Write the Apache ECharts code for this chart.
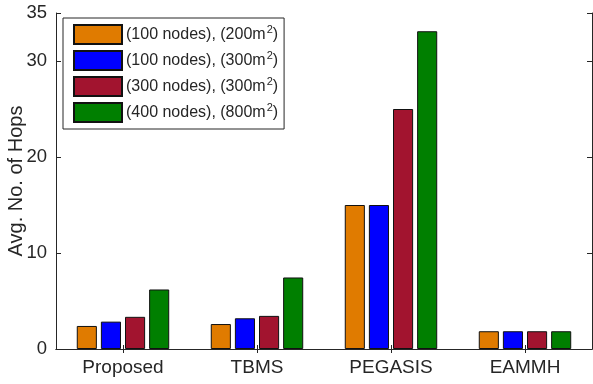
<!DOCTYPE html>
<html>
<head>
<meta charset="utf-8">
<script src="https://cdn.jsdelivr.net/npm/echarts@6/dist/echarts.min.js"></script>
<style>
  html, body { margin: 0; padding: 0; background: #fff; }
  #chart { width: 593px; height: 384px; }
</style>
</head>
<body>
<div id="chart"></div>
<script>
// Routing protocols compared
const categories = ['Proposed', 'TBMS', 'PEGASIS', 'EAMMH'];

// Average number of hops per network scenario
const nodes100area200 = [2.4, 2.6, 15.0, 1.85];
const nodes100area300 = [2.85, 3.2, 15.0, 1.85];
const nodes300area300 = [3.35, 3.45, 25.0, 1.85];
const nodes400area800 = [6.2, 7.45, 33.1, 1.85];

const seriesNames = [
  '(100 nodes), (200m{sup|2})',
  '(100 nodes), (300m{sup|2})',
  '(300 nodes), (300m{sup|2})',
  '(400 nodes), (800m{sup|2})'
];
const seriesValues = [nodes100area200, nodes100area300, nodes300area300, nodes400area800];
const seriesColors = ['#E07B00', '#0000FF', '#A2142F', '#007F00'];

const yTicks = { min: 0, max: 35, interval: 10 };

const axisColor = '#262626';
const font = 'Liberation Sans, Arial, Helvetica, sans-serif';

const chart = echarts.init(document.getElementById('chart'), null, { renderer: 'canvas' });

chart.setOption({
  animation: false,
  grid: { left: 56, right: 1, top: 13, bottom: 35, outerBoundsMode: 'none', containLabel: false },
  legend: {
    orient: 'vertical',
    left: 63,
    top: 18,
    itemWidth: 48,
    itemHeight: 19,
    itemGap: 5,
    padding: [6, 6, 6, 10],
    backgroundColor: '#fff',
    borderColor: axisColor,
    borderWidth: 1,
    icon: 'rect',
    textStyle: {
      fontFamily: font,
      fontSize: 16,
      color: axisColor,
      padding: [0, 0, 0, -1],
      rich: {
        sup: { fontSize: 11, padding: [0, 0, 9, 1], fontFamily: font, color: axisColor }
      }
    },
    data: seriesNames
  },
  xAxis: [{
    type: 'category',
    data: categories,
    position: 'bottom',
    axisLine: { lineStyle: { color: axisColor, width: 1 } },
    axisTick: { show: true, inside: true, length: 4, alignWithLabel: true, lineStyle: { color: axisColor } },
    axisLabel: { fontFamily: font, fontSize: 19, color: axisColor, margin: 9 },
    splitLine: { show: false }
  }, {
    type: 'category',
    data: categories,
    position: 'top',
    axisLine: { lineStyle: { color: axisColor, width: 1 } },
    axisTick: { show: true, inside: true, length: 4, alignWithLabel: true, lineStyle: { color: axisColor } },
    axisLabel: { show: false },
    splitLine: { show: false }
  }],
  yAxis: [{
    type: 'value',
    min: yTicks.min,
    max: yTicks.max,
    interval: yTicks.interval,
    name: 'Avg. No. of Hops',
    nameLocation: 'middle',
    nameGap: 30,
    nameMoveOverlap: false,
    nameTextStyle: { fontFamily: font, fontSize: 20, color: axisColor },
    axisLine: { show: true, lineStyle: { color: axisColor, width: 1 } },
    axisTick: { show: true, inside: true, length: 5, lineStyle: { color: axisColor } },
    axisLabel: { fontFamily: font, fontSize: 18.5, color: axisColor, margin: 9 },
    splitLine: { show: false }
  }, {
    type: 'value',
    position: 'right',
    min: yTicks.min,
    max: yTicks.max,
    interval: yTicks.interval,
    axisLine: { show: true, lineStyle: { color: axisColor, width: 1 } },
    axisTick: { show: true, inside: true, length: 5, lineStyle: { color: axisColor } },
    axisLabel: { show: false },
    splitLine: { show: false }
  }],
  series: seriesNames.map((name, i) => ({
    name: name,
    type: 'bar',
    data: seriesValues[i],
    barGap: '20%',
    barCategoryGap: '31%',
    itemStyle: { color: seriesColors[i], borderColor: '#111', borderWidth: 1 }
  }))
});
</script>
</body>
</html>
